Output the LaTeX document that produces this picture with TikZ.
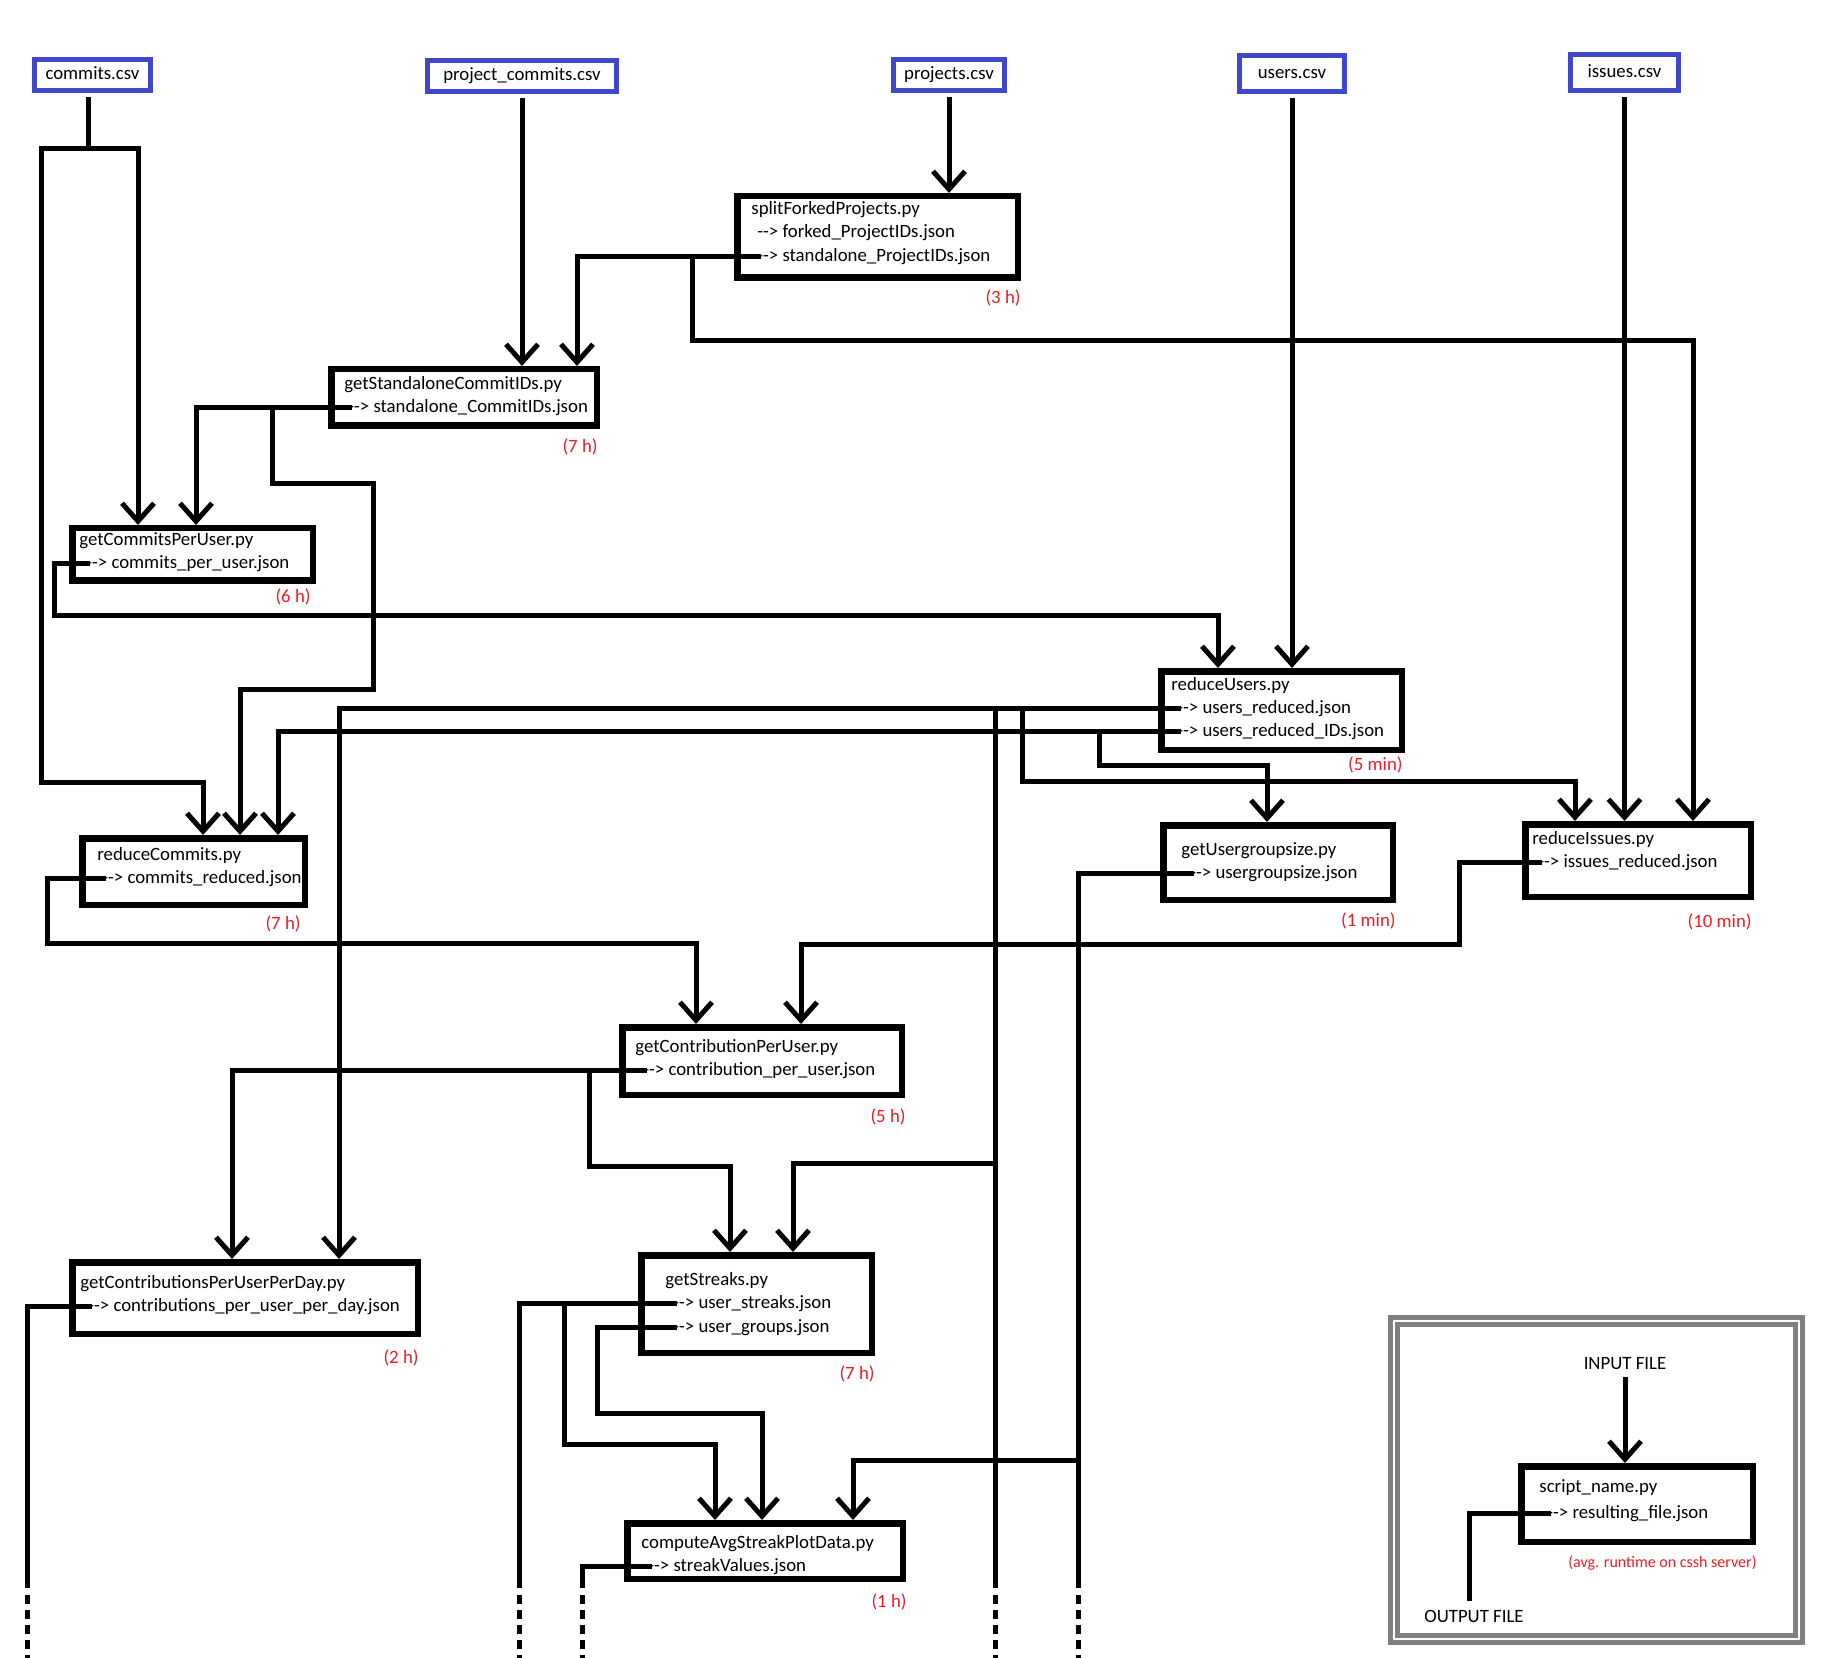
\documentclass[tikz,border=0pt]{standalone}
\usepackage{fontspec}
\setmainfont{Carlito}
\usepackage{xcolor}
\usepackage{tikz}
\usetikzlibrary{arrows.meta}

\definecolor{inblue}{RGB}{63,72,204}
\definecolor{timered}{RGB}{237,28,36}
\definecolor{framegray}{RGB}{127,127,127}
\newcommand{\outarrow}{-\kern0pt-\kern0pt>}

\tikzset{
  inbox/.style={draw=inblue, line width=2.5pt, inner sep=0pt, outer sep=3.5pt, text height=0.75em, text depth=0.25em},
  pybox/.style={draw, line width=3.25pt, inner sep=0pt},
  txt/.style={anchor=west, inner sep=0pt, text height=0.75em, text depth=0.25em},
  runtime/.style={txt, anchor=east, text=timered},
  wire/.style={line width=2.5pt},
  flow/.style={wire, -{Straight Barb[length=9pt,width=16pt]}},
  offpage/.style={wire, dash pattern=on 4.5pt off 3pt},
  keyframe/.style={draw=framegray, line width=2.4pt, double=white, double distance=1.25pt, inner sep=0pt}
}

\begin{document}
\begin{tikzpicture}[x=0.5pt, y=-0.5pt, font=\fontsize{9.4}{11}\selectfont]
\useasboundingbox (0,0) rectangle (1822,1658);

\node[inbox, minimum width=58pt, minimum height=15.5pt] (commits) at (92.5,75) {commits.csv};
\node[inbox, minimum width=94.5pt, minimum height=15.5pt] (pcommits) at (522,76) {project\_commits.csv};
\node[inbox, minimum width=55.5pt, minimum height=15.5pt] (projects) at (949,75) {projects.csv};
\node[inbox, minimum width=52.5pt, minimum height=18pt] (users) at (1292,73.5) {users.csv};
\node[inbox, minimum width=54pt, minimum height=18pt] (issues) at (1624.5,72.5) {issues.csv};

\node[pybox, minimum width=140.25pt, minimum height=40.75pt] (split) at (877.5,237) {};
\node[txt] (split-t) at (751,210) {splitForkedProjects.py};
\node[txt] (split-o1) at (757,233) {\outarrow{} forked\_ProjectIDs.json};
\node[txt] (split-o2) at (757,257) {\outarrow{} standalone\_ProjectIDs.json};
\node[runtime] (split-r) at (1021,299) {(3 h)};

\node[pybox, minimum width=132.75pt, minimum height=28.25pt] (gsc) at (464,397.5) {};
\node[txt] (gsc-t) at (344,385) {getStandaloneCommitIDs.py};
\node[txt] (gsc-o) at (348,408) {\outarrow{} standalone\_CommitIDs.json};
\node[runtime] (gsc-r) at (598,448) {(7 h)};

\node[pybox, minimum width=120.25pt, minimum height=26.25pt] (gcu) at (192.5,554.5) {};
\node[txt] (gcu-t) at (79,541) {getCommitsPerUser.py};
\node[txt] (gcu-o) at (86,564) {\outarrow{} commits\_per\_user.json};
\node[runtime] (gcu-r) at (311,598) {(6 h)};

\node[pybox, minimum width=120.25pt, minimum height=39.25pt] (ru) at (1281.5,710.5) {};
\node[txt] (ru-t) at (1171,685) {reduceUsers.py};
\node[txt] (ru-o1) at (1177,708) {\outarrow{} users\_reduced.json};
\node[txt] (ru-o2) at (1177,731) {\outarrow{} users\_reduced\_IDs.json};
\node[runtime] (ru-r) at (1403,765) {(5 min)};

\node[pybox, minimum width=111.25pt, minimum height=33.25pt] (rc) at (193.5,871.5) {};
\node[txt] (rc-t) at (97,855) {reduceCommits.py};
\node[txt] (rc-o) at (102,878) {\outarrow{} commits\_reduced.json};
\node[runtime] (rc-r) at (301,924) {(7 h)};

\node[pybox, minimum width=114.75pt, minimum height=37.25pt] (gug) at (1278,862.5) {};
\node[txt] (gug-t) at (1181,850) {getUsergroupsize.py};
\node[txt] (gug-o) at (1190,873) {\outarrow{} usergroupsize.json};
\node[runtime] (gug-r) at (1396,921) {(1 min)};

\node[pybox, minimum width=112.75pt, minimum height=36.25pt] (ri) at (1638,860.5) {};
\node[txt] (ri-t) at (1532,839) {reduceIssues.py};
\node[txt] (ri-o) at (1538,862) {\outarrow{} issues\_reduced.json};
\node[runtime] (ri-r) at (1752,922) {(10 min)};

\node[pybox, minimum width=139.75pt, minimum height=33.75pt] (gcp) at (762,1061) {};
\node[txt] (gcp-t) at (635,1047) {getContributionPerUser.py};
\node[txt] (gcp-o) at (643,1070) {\outarrow{} contribution\_per\_user.json};
\node[runtime] (gcp-r) at (906,1117) {(5 h)};

\node[pybox, minimum width=172.75pt, minimum height=35.75pt] (gcpd) at (245,1298) {};
\node[txt] (gcpd-t) at (80,1283) {getContributionsPerUserPerDay.py};
\node[txt] (gcpd-o) at (88,1306) {\outarrow{} contributions\_per\_user\_per\_day.json};
\node[runtime] (gcpd-r) at (419,1358) {(2 h)};

\node[pybox, minimum width=115.25pt, minimum height=48.75pt] (gs) at (756.5,1304) {};
\node[txt] (gs-t) at (665,1280) {getStreaks.py};
\node[txt] (gs-o1) at (673,1303) {\outarrow{} user\_streaks.json};
\node[txt] (gs-o2) at (673,1327) {\outarrow{} user\_groups.json};
\node[runtime] (gs-r) at (875,1374) {(7 h)};

\node[pybox, minimum width=137.75pt, minimum height=27.75pt] (cas) at (765,1551) {};
\node[txt] (cas-t) at (641,1543) {computeAvgStreakPlotData.py};
\node[txt] (cas-o) at (648,1566) {\outarrow{} streakValues.json};
\node[runtime] (cas-r) at (907,1602) {(1 h)};

\coordinate (cut-a) at (27,1588);
\coordinate (cut-b) at (519,1588);
\coordinate (cut-c) at (582,1588);
\coordinate (cut-d) at (995,1588);
\coordinate (cut-e) at (1078,1588);

\draw[flow] (projects.south) -- (projects.south |- split.north);
\draw[flow] (pcommits.south) -- (pcommits.south |- gsc.north);
\draw[flow] (users.south) -- (users.south |- ru.north);
\draw[flow] (issues.south) -- (issues.south |- ri.north);
\draw[flow] ([xshift=-2.25pt]commits.south) |- (138,149) -- ([xshift=-27.25pt]gcu.north);
\draw[flow] ([xshift=-2.25pt]commits.south) |- (41,149) |- (203,782) -- ([xshift=4.75pt]rc.north);

\draw[flow] ([xshift=2pt]split-o2.west) -| ([xshift=56.5pt]gsc.north);
\draw[flow] ([xshift=2pt]split-o2.west) -| (692,341) -| ([xshift=27.5pt]ri.north);
\draw[flow] ([xshift=2pt]gsc-o.west) -| ([xshift=1.75pt]gcu.north);
\draw[flow] ([xshift=2pt]gsc-o.west) -| (272,484) -| (373,689) -| ([xshift=23.25pt]rc.north);
\draw[flow] ([xshift=2pt]gcu-o.west) -| (54,616) -| ([xshift=-31.75pt]ru.north);

\draw[flow] ([xshift=2pt]ru-o1.west) -| ([xshift=47pt]gcpd.north);
\draw[flow] ([xshift=2pt]ru-o1.west) -| (995,1163) -| ([xshift=18.25pt]gs.north);
\draw[wire] ([xshift=2pt]ru-o1.west) -| (cut-d);
\draw[flow] ([xshift=2pt]ru-o1.west) -| (1022,781) -| ([xshift=-31.5pt]ri.north);
\draw[flow] ([xshift=2pt]ru-o2.west) -| ([xshift=42.25pt]rc.north);
\draw[flow] ([xshift=2pt]ru-o2.west) -| (1099,765) -| ([xshift=-5.5pt]gug.north);

\draw[flow] ([xshift=2pt]rc-o.west) -| (47,943) -| ([xshift=-33pt]gcp.north);
\draw[flow] ([xshift=2pt]ri-o.west) -| (1459,944) -| ([xshift=19.5pt]gcp.north);
\draw[flow] ([xshift=2pt]gug-o.west) -| (1078,1460) -| ([xshift=44pt]cas.north);
\draw[wire] ([xshift=2pt]gug-o.west) -| (cut-e);

\draw[flow] ([xshift=2pt]gcp-o.west) -| ([xshift=-6.5pt]gcpd.north);
\draw[flow] ([xshift=2pt]gcp-o.west) -| (589,1166) -| ([xshift=-13.25pt]gs.north);
\draw[wire] ([xshift=2pt]gcpd-o.west) -| (cut-a);
\draw[wire] ([xshift=2pt]gs-o1.west) -| (cut-b);
\draw[flow] ([xshift=2pt]gs-o1.west) -| (564,1444) -| ([xshift=-25pt]cas.north);
\draw[flow] ([xshift=2pt]gs-o2.west) -| (597,1413) -| ([xshift=-1.5pt]cas.north);
\draw[wire] ([xshift=2pt]cas-o.west) -| (cut-c);

\draw[offpage] (cut-a) ++(0,7) -- ++(0,63);
\draw[offpage] (cut-b) ++(0,7) -- ++(0,63);
\draw[offpage] (cut-c) ++(0,7) -- ++(0,63);
\draw[offpage] (cut-d) ++(0,7) -- ++(0,63);
\draw[offpage] (cut-e) ++(0,7) -- ++(0,63);

\node[keyframe, minimum width=202.5pt, minimum height=159pt] (key) at (1596.5,1480) {};
\node[inner sep=0pt] (key-in) at (1625,1364) {INPUT FILE};
\node[pybox, minimum width=115.75pt, minimum height=37.75pt] (leg) at (1637,1504) {};
\node[txt] (leg-t) at (1539,1487) {script\_name.py};
\node[txt] (leg-o) at (1547,1513) {\outarrow{} resulting\_file.json};
\node[runtime, font=\fontsize{8}{9}\selectfont] (leg-r) at (1757,1562) {(avg. runtime on cssh server)};
\node[inner sep=0pt] (key-out) at (1474,1616) {OUTPUT FILE};
\draw[flow] ([yshift=-3pt]key-in.south) -- ([xshift=-6pt]leg.north);
\draw[wire] ([xshift=2pt]leg-o.west) -| ([xshift=-2.5pt,yshift=4pt]key-out.north);
\end{tikzpicture}
\end{document}
